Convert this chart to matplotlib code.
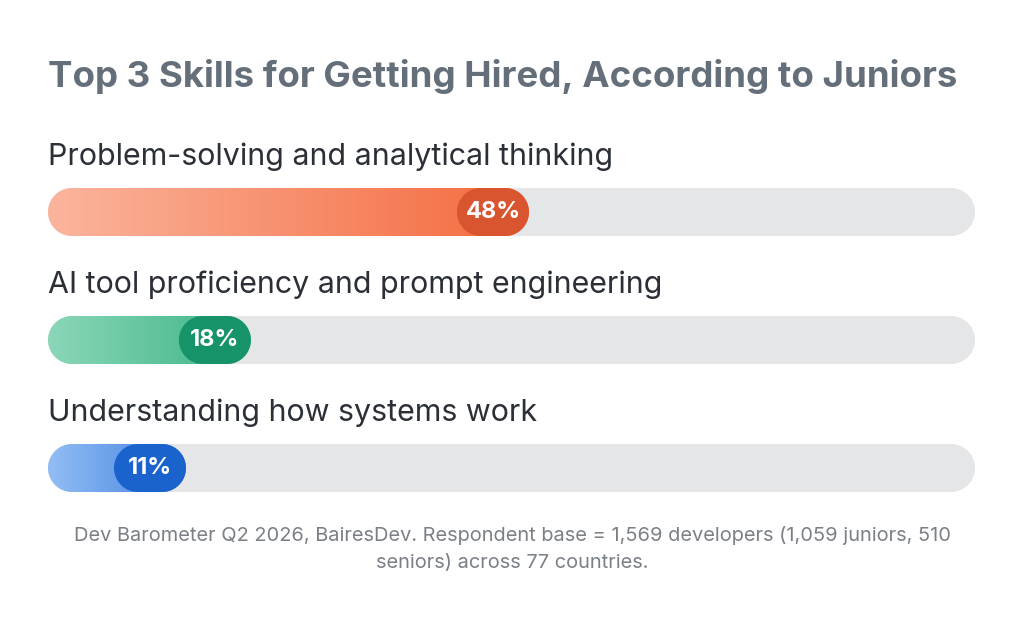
import numpy as np
import matplotlib
matplotlib.use("Agg")
import matplotlib.pyplot as plt
from matplotlib.patches import Polygon
from matplotlib.colors import LinearSegmentedColormap

# data
skills = ["Problem-solving and analytical thinking",
          "AI tool proficiency and prompt engineering",
          "Understanding how systems work"]
shares = [48, 18, 11]
light_cols = ["#fbb59d", "#8bd7b9", "#92bef4"]
dark_cols = ["#f46a3e", "#3bb384", "#3f7fdf"]
pill_cols = ["#d9552f", "#17936a", "#1a63cd"]

title = "Top 3 Skills for Getting Hired, According to Juniors"
note = ("Dev Barometer Q2 2026, BairesDev. Respondent base = 1,569 developers (1,059 juniors, 510\n"
        "seniors) across 77 countries.")

W, H = 1024, 618
fig = plt.figure(figsize=(W / 100, H / 100), dpi=100)
fig.patch.set_facecolor("white")
plt.rcParams["font.family"] = ["Inter", "DejaVu Sans"]

# bar area in pixels: track x 48..975, rows centred at 212, 340, 468 (pitch 128)
x0, x1 = 48, 975
top, bot = 120, 500
ax = fig.add_axes([x0 / W, 1 - bot / H, (x1 - x0) / W, (bot - top) / H])
ax.set_xlim(0, 100)
ax.set_ylim((bot - 212) / 128, -(212 - top) / 128)
ax.axis("off")

px_x = (x1 - x0) / 100.0      # pixels per x unit
ry = 24 / 128.0               # half bar height in y units
rx = 24 / px_x                # same radius in x units
pill_half = 36 / px_x

def stadium(xa, xb, yc, color, z):
    t = np.linspace(-np.pi / 2, np.pi / 2, 40)
    right = np.column_stack([xb - rx + rx * np.cos(t), yc + ry * np.sin(t)])
    left = np.column_stack([xa + rx - rx * np.cos(t), yc - ry * np.sin(t)])
    p = Polygon(np.vstack([right, left]), closed=True, facecolor=color,
                edgecolor="none", zorder=z)
    ax.add_patch(p)
    return p

grad = np.linspace(0, 1, 256).reshape(1, -1)
for i, (lab, v) in enumerate(zip(skills, shares)):
    ax.text(0, i - 55 / 128, lab, fontsize=21.9, color="#2b2f36", va="center", ha="left")
    stadium(0, 100, i, "#e5e6e8", 1)
    end = v + pill_half
    clip = stadium(0, end, i, "none", 2)
    cmap = LinearSegmentedColormap.from_list("g%d" % i, [light_cols[i], dark_cols[i]])
    im = ax.imshow(grad, cmap=cmap, extent=(0, end, i + ry, i - ry),
                   aspect="auto", zorder=2, interpolation="bilinear")
    im.set_clip_path(clip)
    stadium(v - pill_half, v + pill_half, i, pill_cols[i], 3)
    ax.text(v, i, f"{v}%", fontsize=17, fontweight="bold", color="white",
            ha="center", va="center", zorder=4)

fig.text(48 / W, 1 - 76 / H, title, fontsize=26.4, fontweight="bold",
         color="#646f7a", ha="left", va="center")
fig.text(0.5, 1 - 549 / H, note, fontsize=14.4, color="#7b8086", ha="center",
         va="center", linespacing=1.6)

fig.savefig("out.png", dpi=100, facecolor="white")
